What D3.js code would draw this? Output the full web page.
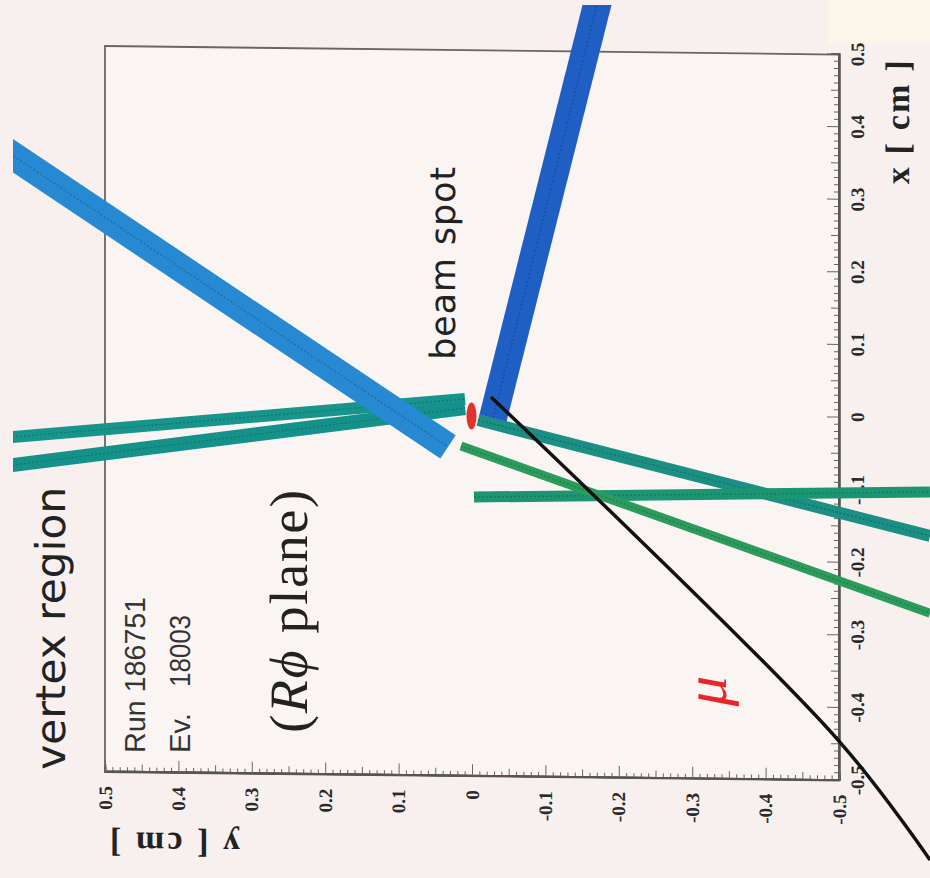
<!DOCTYPE html>
<html><head><meta charset="utf-8">
<script src="https://cdn.jsdelivr.net/npm/d3@7"></script>
<style>html,body{margin:0;padding:0;background:#f7f0ef;} svg{display:block}</style>
</head><body>
<svg id="c" width="930" height="878"></svg>
<script>
// ---------- axis ticks (cm) ----------
const xTickValues = [-0.5,-0.4,-0.3,-0.2,-0.1,0,0.1,0.2,0.3,0.4,0.5];
const xTickLabels = ["-0.5","-0.4","-0.3","-0.2","-0.1","0","0.1","0.2","0.3","0.4","0.5"];
const yTickValues = [-0.5,-0.4,-0.3,-0.2,-0.1,0,0.1,0.2,0.3,0.4,0.5];
const yTickLabels = ["-0.5","-0.4","-0.3","-0.2","-0.1","0","0.1","0.2","0.3","0.4","0.5"];
const midTickValues = [-0.45,-0.35,-0.25,-0.15,-0.05,0.05,0.15,0.25,0.35,0.45];

// ---------- tracks: points [x, y] in cm ----------
const trackTealUpper = [[-0.0416,0.643],[0.0196,0.0095]];
const trackTealLower = [[-0.0810,0.643],[0.0072,0.0095]];
const trackLightBlue = [[0.3592,0.643],[-0.0468,0.0327]];
const trackTealRight = [[-0.0092,-0.0082],[-0.1617,-0.624]];
const trackGreen     = [[-0.0453,0.0150],[-0.2680,-0.624]];
const trackGreenFlat = [[-0.1153,-0.0027],[-0.1011,-0.624]];
const trackDarkBlue  = [[-0.0062,-0.0286],[0.578,-0.1737]];
const trackMuon      = [[0.0227,-0.0259],[-0.4456,-0.500],[-0.608,-0.624]];
// beam spot centre and half-sizes (cm)
const beamSpot = [-0.0037, 0.0007];
const beamSpotSize = [0.0185, 0.0068];

// ---------- styles ----------
const trackStyle = {
  tealUpper: {c:"#17958c", w:12},
  tealLower: {c:"#14928a", w:14},
  lightBlue: {c:"#2689d2", w:28},
  tealRight: {c:"#1b8f84", w:12},
  green:     {c:"#2c9c5c", w:9},
  greenFlat: {c:"#1c9672", w:11},
  darkBlue:  {c:"#1f5fc4", w:28},
  muon:      {c:"#111111", w:3.5}
};
const tracks = [
  ["tealUpper", trackTealUpper], ["tealLower", trackTealLower],
  ["lightBlue", trackLightBlue], ["tealRight", trackTealRight],
  ["greenFlat", trackGreenFlat], ["green", trackGreen],
  ["darkBlue", trackDarkBlue], ["muon", trackMuon]
];

const svg = d3.select("#c");
const W = 726, H = 734;
const x = d3.scaleLinear().domain([-0.5,0.5]).range([0,W]);
const y = d3.scaleLinear().domain([-0.5,0.5]).range([H,0]);

function plotGroup(parent){
  return parent.append("g").attr("transform","skewY(0.665)")
    .append("g").attr("transform","translate(105,770.8) rotate(-90)");
}

// top-right paper fragment
svg.append("rect").attr("x",828).attr("y",0).attr("width",102).attr("height",44).attr("fill","#fbf5ea");

// ---------- frame & axes ----------
const g = plotGroup(svg);
g.append("rect").attr("x",0).attr("y",0).attr("width",W).attr("height",H)
  .attr("fill","#faf5f2").attr("stroke","#666").attr("stroke-width",1.8);

const minorTicks = d3.range(-50,51).filter(i => i % 5 !== 0).map(i => i/100);
function styleAxis(sel){
  sel.select(".domain").attr("stroke","#555").attr("stroke-width",1.8);
  sel.selectAll(".tick line").attr("stroke","#666").attr("stroke-width",1);
  sel.selectAll("text").attr("font-family","Liberation Serif, serif").attr("font-weight","bold")
     .attr("font-size",19).attr("fill","#2a2a2a");
}
const gx = g.append("g").attr("transform",`translate(0,${H})`);
gx.append("g").call(d3.axisBottom(x).tickValues(minorTicks).tickSize(-5).tickFormat("")).call(styleAxis);
gx.append("g").call(d3.axisBottom(x).tickValues(midTickValues).tickSize(-8).tickFormat("")).call(styleAxis);
gx.append("g").call(d3.axisBottom(x).tickValues(xTickValues).tickSizeInner(-12).tickSizeOuter(0).tickPadding(12)
  .tickFormat(d => xTickLabels[xTickValues.indexOf(d)])).call(styleAxis);

const gy = g.append("g");
gy.append("g").call(d3.axisLeft(y).tickValues(minorTicks).tickSize(-5).tickFormat("")).call(styleAxis);
gy.append("g").call(d3.axisLeft(y).tickValues(midTickValues).tickSize(-8).tickFormat("")).call(styleAxis);
gy.append("g").call(d3.axisLeft(y).tickValues(yTickValues).tickSizeInner(-12).tickSizeOuter(0).tickPadding(14)
  .tickFormat(d => yTickLabels[yTickValues.indexOf(d)])).call(styleAxis);

// axis titles
g.append("text").attr("x",597).attr("y",804).attr("font-family","Liberation Serif, serif").attr("font-weight","bold")
  .attr("font-size",34).attr("fill","#222").attr("textLength",124).attr("lengthAdjust","spacing").text("x [ cm ]");
g.append("text").attr("transform","translate(-60,135) rotate(-90)").attr("font-family","Liberation Serif, serif").attr("font-weight","bold")
  .attr("font-size",34).attr("fill","#222").attr("textLength",130).attr("lengthAdjust","spacing").text("y [ cm ]");

// ---------- tracks (clipped to the picture area) ----------
svg.append("defs").append("clipPath").attr("id","pic").append("rect")
  .attr("x",13).attr("y",5).attr("width",917).attr("height",873);
const tg = plotGroup(svg.append("g").attr("clip-path","url(#pic)"));
const line = d3.line().x(d => x(d[0])).y(d => y(d[1])).curve(d3.curveCatmullRom);
tracks.forEach(([name, pts]) => {
  const s = trackStyle[name];
  tg.append("path").attr("d", line(pts)).attr("fill","none").attr("stroke", s.c)
    .attr("stroke-width", s.w).attr("stroke-linecap","butt");
  if (s.w > 8) {
    tg.append("path").attr("d", line(pts)).attr("fill","none")
      .attr("stroke", d3.color(s.c).darker(0.9)).attr("stroke-width",1.4)
      .attr("stroke-dasharray","2,2").attr("opacity",0.7);
  }
});
tg.append("ellipse").attr("cx", x(beamSpot[0])).attr("cy", y(beamSpot[1]))
  .attr("rx", x(beamSpotSize[0]) - x(0)).attr("ry", y(0) - y(beamSpotSize[1]))
  .attr("fill","#e0332e");

// ---------- annotations ----------
g.append("text").attr("x",1.6).attr("y",-40).attr("font-family","DejaVu Sans, sans-serif")
  .attr("font-size",41).attr("fill","#222").attr("textLength",283).attr("lengthAdjust","spacingAndGlyphs").text("vertex region");
g.append("text").attr("x",19.5).attr("y",40).attr("font-family","Liberation Sans, Arial, sans-serif")
  .attr("font-size",29).attr("fill","#333").attr("textLength",156).attr("lengthAdjust","spacingAndGlyphs").text("Run 186751");
g.append("text").attr("x",20).attr("y",85).attr("font-family","Liberation Sans, Arial, sans-serif")
  .attr("font-size",29).attr("fill","#333").text("Ev.");
g.append("text").attr("x",86).attr("y",85).attr("font-family","Liberation Sans, Arial, sans-serif")
  .attr("font-size",29).attr("fill","#333").attr("textLength",72).attr("lengthAdjust","spacingAndGlyphs").text("18003");
const rp = g.append("text").attr("x",41.4).attr("y",202).attr("font-family","Liberation Serif, DejaVu Serif, serif")
  .attr("font-size",54).attr("fill","#222").attr("textLength",243).attr("lengthAdjust","spacing");
rp.append("tspan").text("(");
rp.append("tspan").attr("font-style","italic").text("R\u03D5");
rp.append("tspan").text(" plane)");
g.append("text").attr("x",416).attr("y",350).attr("font-family","DejaVu Sans, sans-serif")
  .attr("font-size",35).attr("fill","#222").attr("textLength",193).attr("lengthAdjust","spacing").text("beam spot");
g.append("text").attr("x",73).attr("y",621).attr("font-family","Liberation Serif, serif").attr("font-style","italic")
  .attr("font-size",60).attr("fill","#e8262a").text("\u03BC");
</script>
</body></html>
